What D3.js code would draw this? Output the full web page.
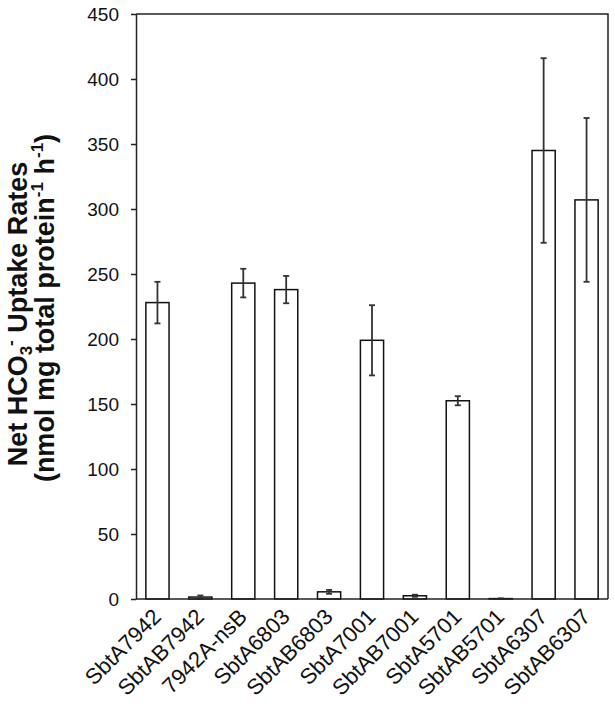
<!DOCTYPE html>
<html>
<head>
<meta charset="utf-8">
<script src="https://cdn.jsdelivr.net/npm/d3@7"></script>
<style>
  html, body { margin: 0; padding: 0; background: #fff; }
  svg { display: block; font-family: Arial, "Liberation Sans", sans-serif; }
</style>
</head>
<body>
<svg id="chart" width="615" height="714"></svg>
<script>
// strains measured, net HCO3- uptake (mean and error)
const strains = ['SbtA7942', 'SbtAB7942', '7942A-nsB', 'SbtA6803', 'SbtAB6803',
  'SbtA7001', 'SbtAB7001', 'SbtA5701', 'SbtAB5701', 'SbtA6307', 'SbtAB6307'];
const rates  = [228, 1.5, 243, 238, 5.5, 199, 2.5, 152.5, 0.3, 345, 307];
const errors = [16, 1.2, 11, 10.5, 1.5, 27, 0.8, 3.5, 0.2, 71, 63];
const yTicks = [0, 50, 100, 150, 200, 250, 300, 350, 400, 450];

const W = 615, H = 714;
const m = { top: 14, right: 7, bottom: 115, left: 136 };
const svg = d3.select('#chart');

const x = d3.scaleBand()
  .domain(strains)
  .range([m.left, W - m.right])
  .paddingInner(0.46)
  .paddingOuter(0.23);

const y = d3.scaleLinear()
  .domain([0, 450])
  .range([H - m.bottom, m.top]);

// frame (top + right)
svg.append('path')
  .attr('d', `M${m.left},${m.top}H${W - m.right}V${H - m.bottom}`)
  .attr('fill', 'none')
  .attr('stroke', '#222')
  .attr('stroke-width', 1.5);

// bars
svg.append('g').selectAll('rect')
  .data(strains)
  .join('rect')
  .attr('x', d => x(d))
  .attr('y', (d, i) => y(rates[i]))
  .attr('width', x.bandwidth())
  .attr('height', (d, i) => y(0) - y(rates[i]))
  .attr('fill', '#fff')
  .attr('stroke', '#111')
  .attr('stroke-width', 1.5);

// error bars
const eb = svg.append('g')
  .attr('stroke', '#333')
  .attr('stroke-width', 1.8);
strains.forEach((s, i) => {
  const cx = x(s) + x.bandwidth() / 2;
  const lo = y(Math.max(0, rates[i] - errors[i]));
  const hi = y(rates[i] + errors[i]);
  eb.append('line').attr('x1', cx).attr('x2', cx).attr('y1', lo).attr('y2', hi);
  eb.append('line').attr('x1', cx - 3).attr('x2', cx + 3).attr('y1', lo).attr('y2', lo);
  eb.append('line').attr('x1', cx - 3).attr('x2', cx + 3).attr('y1', hi).attr('y2', hi);
});

// y axis
const yAxis = svg.append('g')
  .attr('transform', `translate(${m.left},0)`)
  .call(d3.axisLeft(y).tickValues(yTicks).tickSize(5).tickPadding(12).tickSizeOuter(0));
yAxis.select('.domain').attr('stroke', '#222').attr('stroke-width', 1.5);
yAxis.selectAll('.tick line').attr('stroke', '#222').attr('stroke-width', 1.5);
yAxis.selectAll('.tick text')
  .attr('font-size', 19)
  .attr('font-family', 'Arial, "Liberation Sans", sans-serif')
  .attr('fill', '#111');

// x baseline
svg.append('line')
  .attr('x1', m.left).attr('x2', W - m.right)
  .attr('y1', y(0)).attr('y2', y(0))
  .attr('stroke', '#222').attr('stroke-width', 1.5);

// x labels rotated
svg.append('g').selectAll('text')
  .data(strains)
  .join('text')
  .attr('transform', d => `translate(${x(d) + x.bandwidth() / 2 + 5},${y(0) + 19}) rotate(-45)`)
  .attr('text-anchor', 'end')
  .attr('font-size', 22)
  .attr('fill', '#111')
  .text(d => d);

// y title, two lines with sub/superscripts
const t1 = svg.append('text')
  .attr('transform', `translate(27,314) rotate(-90)`)
  .attr('text-anchor', 'middle')
  .attr('font-size', 27)
  .attr('font-weight', 'bold')
  .attr('fill', '#111');
t1.append('tspan').text('Net HCO');
t1.append('tspan').attr('font-size', 17).attr('dy', 5).text('3');
t1.append('tspan').attr('font-size', 17).attr('dy', -16).text('-');
t1.append('tspan').attr('dy', 11).text(' Uptake Rates');

const t2 = svg.append('text')
  .attr('transform', `translate(54,308) rotate(-90)`)
  .attr('text-anchor', 'middle')
  .attr('font-size', 27)
  .attr('font-weight', 'bold')
  .attr('fill', '#111');
t2.append('tspan').text('(nmol mg total protein');
t2.append('tspan').attr('font-size', 17).attr('dy', -11).text('-1');
t2.append('tspan').attr('dy', 11).text(' h');
t2.append('tspan').attr('font-size', 17).attr('dy', -11).text('-1');
t2.append('tspan').attr('dy', 11).text(')');
</script>
</body>
</html>
